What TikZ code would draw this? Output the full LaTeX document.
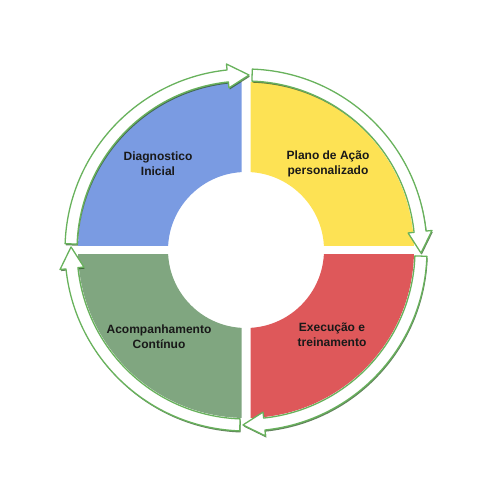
\documentclass[tikz,border=0pt]{standalone}
\usepackage{fontspec}
\setmainfont{Liberation Sans}
\definecolor{qblue}{RGB}{122,155,226}
\definecolor{qyellow}{RGB}{253,226,84}
\definecolor{qred}{RGB}{222,88,90}
\definecolor{qgreen}{RGB}{128,166,128}
\definecolor{arrline}{RGB}{104,178,92}
\definecolor{arrshadow}{RGB}{45,90,38}

\begin{document}
\begin{tikzpicture}[x=1pt, y=1pt,
    every node/.style={font=\bfseries\fontsize{12}{15}\selectfont, align=center, text=black!90},
    cyclearrow/.style={fill=white, draw=arrline, line width=1.3pt, line join=round}]
    \useasboundingbox (0,0) rectangle (500,500);
    \begin{scope}[shift={(246,250)}]
        % the four quarters of the ring
        \foreach \dx/\dy/\col in {-1/1/qblue, 1/1/qyellow, 1/-1/qred, -1/-1/qgreen}{
            \begin{scope}
                \clip (\dx*4.5,\dy*4.5) rectangle (\dx*200,\dy*200);
                \fill[\col, even odd rule] (0,0) circle[radius=168] (0,0) circle[radius=78];
            \end{scope}
        }
        % arrows round the ring
        \foreach \s/\e in {178/89, 88/-1, -2/-91, -92/-181}{
            \pgfmathsetmacro{\h}{\e+7}
            \fill[arrshadow, opacity=.75, shift={(0.8,-1.6)}] (\s:169) -- (\s:181)
                arc[start angle=\s, end angle=\h, radius=181] -- (\h:187) -- (\e:175)
                -- (\h:163) -- (\h:169) arc[start angle=\h, end angle=\s, radius=169] -- cycle;
            \draw[cyclearrow] (\s:169) -- (\s:181)
                arc[start angle=\s, end angle=\h, radius=181] -- (\h:187) -- (\e:175)
                -- (\h:163) -- (\h:169) arc[start angle=\h, end angle=\s, radius=169] -- cycle;
        }
    \end{scope}
    \node (diag) at (158,336) {Diagnostico\\Inicial};
    \node (plano) at (328,336) {Plano de Ação\\personalizado};
    \node (exec) at (332,165) {Execução e\\treinamento};
    \node (acomp) at (159,163) {Acompanhamento\\Contínuo};
\end{tikzpicture}
\end{document}
